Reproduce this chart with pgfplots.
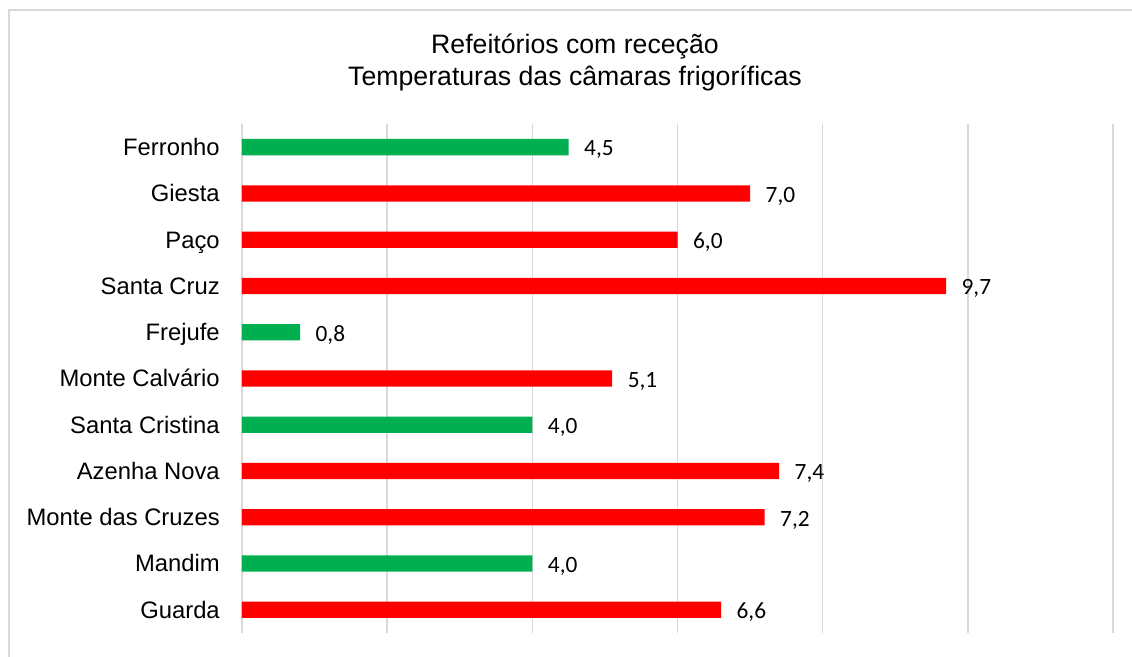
\documentclass[border=0pt]{standalone}
\usepackage{pgfplots}
\pgfplotsset{compat=1.18}
\usepackage{fontspec}
\setmainfont{Liberation Sans}
\newfontfamily\carlito{Carlito}
\definecolor{barred}{HTML}{FF0000}
\definecolor{bargreen}{HTML}{00B050}
\definecolor{gridgray}{HTML}{D9D9D9}
\begin{document}
\begin{tikzpicture}
\path[use as bounding box] (-181.5pt,-18pt) rectangle (667.5pt,474.75pt);
\draw[gridgray, line width=1.2pt] (-174.75pt,-30pt) -- (-174.75pt,467.25pt) -- (700pt,467.25pt);
\node[align=center, font=\fontsize{20}{24}\selectfont] at (249.75pt,428.25pt) {Refeitórios com receção\\Temperaturas das câmaras frigoríficas};
\begin{axis}[
  at={(0pt,0pt)}, anchor=south west,
  scale only axis,
  width=653.25pt, height=381.75pt,
  xmin=0, xmax=12, ymin=-0.5, ymax=10.5,
  xbar, bar width=12.2pt, bar shift=0pt,
  xtick={0,2,...,12}, xticklabels={},
  ytick={0,...,10},
  yticklabels={Guarda,Mandim,Monte das Cruzes,Azenha Nova,Santa Cristina,Monte Calvário,Frejufe,Santa Cruz,Paço,Giesta,Ferronho},
  y tick label style={font=\fontsize{17.85}{20}\selectfont, anchor=base east, inner sep=0pt, xshift=-16.5pt, yshift=-6.3pt},
  major tick length=0pt,
  axis line style={draw=none},
  xmajorgrids,
  grid style={gridgray, line width=1.2pt},
  nodes near coords,
  /pgf/number format/.cd, fixed, fixed zerofill, precision=1, use comma, assume math mode=true,
  /pgfplots/.cd,
  nodes near coords style={font=\carlito\fontsize{17.5}{19}\selectfont, anchor=base west, inner sep=0pt, xshift=11.5pt, yshift=-6.6pt, black},
]
\addplot[draw=none, fill=barred] coordinates {(6.6,0) (7.2,2) (7.4,3) (5.1,5) (9.7,7) (6.0,8) (7.0,9)};
\addplot[draw=none, fill=bargreen] coordinates {(4.0,1) (4.0,4) (0.8,6) (4.5,10)};
\end{axis}
\end{tikzpicture}
\end{document}
